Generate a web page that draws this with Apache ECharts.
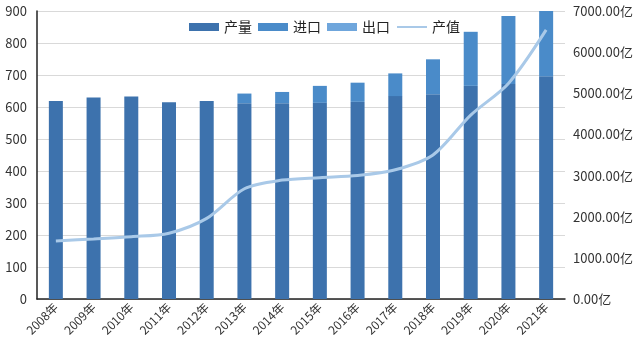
<!DOCTYPE html>
<html>
<head>
<meta charset="utf-8">
<script src="https://cdn.jsdelivr.net/npm/echarts@6/dist/echarts.min.js"></script>
<style>
  html, body { margin: 0; padding: 0; background: #fff; }
  #chart { width: 640px; height: 354px; }
</style>
</head>
<body>
<div id="chart"></div>
<script>
var years = ["2008年", "2009年", "2010年", "2011年", "2012年", "2013年", "2014年",
  "2015年", "2016年", "2017年", "2018年", "2019年", "2020年", "2021年"];
// 产量 / 进口 / 出口 (left axis), 产值 in 亿 (right axis)
var output = [619, 630, 633, 615, 619, 612, 612, 613, 616, 634, 640, 666, 672, 696];
var imports = [0, 0, 0, 0, 0, 30, 35, 53, 60, 71, 109, 169, 212, 206];
var exports = [0, 0, 0, 0, 0, 0, 0, 0, 0, 0, 0, 0, 0, 0];
var value = [1410, 1460, 1515, 1600, 1960, 2680, 2890, 2950, 3000, 3140, 3500, 4470, 5240, 6540];

var font = "'Noto Sans CJK SC', 'Noto Sans', sans-serif";
var chart = echarts.init(document.getElementById("chart"));
chart.setOption({
  animation: false,
  textStyle: { fontFamily: font },
  legend: {
    top: 15,
    left: 184,
    itemWidth: 30,
    itemHeight: 8,
    itemGap: 6,
    textStyle: { fontSize: 14, color: "#222", fontFamily: font },
    data: [
      { name: "产量", icon: "rect" },
      { name: "进口", icon: "rect" },
      { name: "出口", icon: "rect" },
      { name: "产值", itemStyle: { opacity: 0 } }
    ]
  },
  grid: { left: 37, right: 75, top: 11, bottom: 55 },
  xAxis: {
    type: "category",
    data: years,
    axisLine: { lineStyle: { color: "#222", width: 1.5 } },
    axisTick: { show: false },
    axisLabel: { rotate: 45, fontSize: 12, color: "#333", margin: 6, interval: 0 }
  },
  yAxis: [
    {
      type: "value",
      min: 0, max: 900, interval: 100,
      axisLine: { show: true, lineStyle: { color: "#222", width: 1.5 } },
      axisTick: { show: false },
      splitLine: { lineStyle: { color: "#d9d9d9" } },
      axisLabel: { fontSize: 13, color: "#333", margin: 10 }
    },
    {
      type: "value",
      min: 0, max: 7000, interval: 1000,
      axisLine: { show: false },
      axisTick: { show: false },
      splitLine: { show: false },
      axisLabel: {
        fontSize: 13, color: "#333", margin: 8,
        formatter: function (v) { return v.toFixed(2) + "亿"; }
      }
    }
  ],
  series: [
    {
      name: "产量", type: "bar", stack: "total", barWidth: 14,
      itemStyle: { color: "#3d72ad" },
      data: output
    },
    {
      name: "进口", type: "bar", stack: "total",
      itemStyle: { color: "#4a8bc9" },
      data: imports
    },
    {
      name: "出口", type: "bar", stack: "total",
      itemStyle: { color: "#6fa6dc" },
      data: exports
    },
    {
      name: "产值", type: "line", yAxisIndex: 1, smooth: 0.3,
      symbol: "none",
      lineStyle: { color: "#a9c9e8", width: 3 },
      itemStyle: { color: "#a9c9e8" },
      data: value
    }
  ]
});
</script>
</body>
</html>
